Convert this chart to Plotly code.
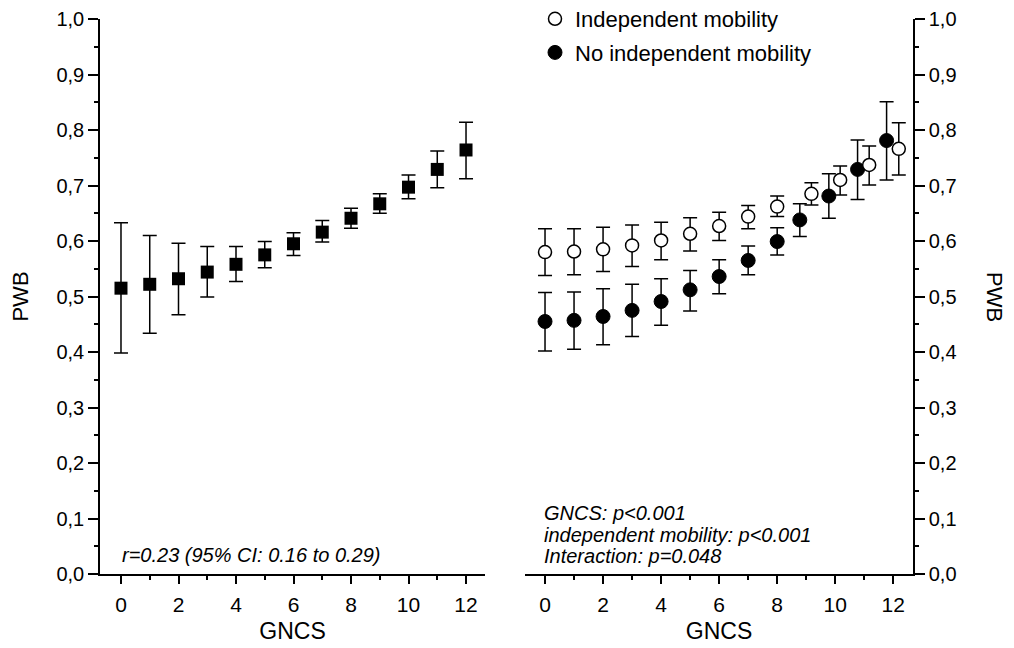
import plotly.graph_objects as go

# ---- Data ----
gncs = [0, 1, 2, 3, 4, 5, 6, 7, 8, 9, 10, 11, 12]

# Left panel: overall PWB by GNCS
all_mean = [0.515, 0.522, 0.532, 0.544, 0.558, 0.575, 0.595, 0.616, 0.641, 0.667, 0.697, 0.729, 0.764]
all_low = [0.398, 0.434, 0.467, 0.499, 0.527, 0.552, 0.574, 0.598, 0.623, 0.650, 0.676, 0.696, 0.712]
all_up = [0.633, 0.610, 0.596, 0.590, 0.590, 0.599, 0.615, 0.637, 0.659, 0.685, 0.719, 0.762, 0.814]

# Right panel: independent mobility
ind_x = [0, 1, 2, 3, 4, 5, 6, 7, 8, 9.18, 10.17, 11.17, 12.19]
ind_mean = [0.580, 0.581, 0.585, 0.592, 0.601, 0.613, 0.627, 0.644, 0.662, 0.685, 0.710, 0.737, 0.766]
ind_low = [0.538, 0.539, 0.545, 0.554, 0.566, 0.582, 0.601, 0.622, 0.644, 0.665, 0.683, 0.701, 0.719]
ind_up = [0.622, 0.622, 0.625, 0.629, 0.634, 0.642, 0.652, 0.664, 0.681, 0.705, 0.735, 0.771, 0.813]

# Right panel: no independent mobility
noind_x = [0, 1, 2, 3, 4, 5, 6, 7, 8, 8.78, 9.78, 10.77, 11.77]
noind_mean = [0.455, 0.457, 0.464, 0.475, 0.491, 0.512, 0.536, 0.565, 0.599, 0.638, 0.681, 0.729, 0.781]
noind_low = [0.402, 0.405, 0.413, 0.428, 0.448, 0.474, 0.505, 0.539, 0.575, 0.608, 0.641, 0.675, 0.710]
noind_up = [0.507, 0.508, 0.514, 0.522, 0.532, 0.547, 0.566, 0.591, 0.624, 0.667, 0.721, 0.782, 0.851]

x_ticks = [0, 2, 4, 6, 8, 10, 12]

FONT = "Arial, Liberation Sans, sans-serif"
W, H = 1014, 648
OFF = 8  # page body margin offset


def px(x):
    return (x - OFF) / W


def py(y):
    return (H - (y - OFF)) / H


def err(mean, low, up):
    return dict(type="data", symmetric=False,
                array=[u - m for u, m in zip(up, mean)],
                arrayminus=[m - l for m, l in zip(mean, low)],
                color="black", thickness=1.5, width=7)


fig = go.Figure()

fig.add_trace(go.Scatter(
    x=gncs, y=all_mean, mode="markers", xaxis="x", yaxis="y",
    marker=dict(symbol="square", size=13, color="black"),
    error_y=err(all_mean, all_low, all_up), showlegend=False))

fig.add_trace(go.Scatter(
    x=noind_x, y=noind_mean, mode="markers", xaxis="x2", yaxis="y2",
    name="No independent mobility", legendrank=2, legendgroup="b",
    marker=dict(symbol="circle", size=14, color="black", line=dict(color="black", width=1)),
    error_y=err(noind_mean, noind_low, noind_up)))

fig.add_trace(go.Scatter(
    x=ind_x, y=ind_mean, mode="markers", xaxis="x2", yaxis="y2",
    name="Independent mobility", legendrank=1, legendgroup="a",
    marker=dict(symbol="circle", size=13, color="white", line=dict(color="black", width=1.5)),
    error_y=err(ind_mean, ind_low, ind_up)))

ydom = [py(574), py(19)]

xaxis_common = dict(
    tickmode="array", tickvals=x_ticks, ticks="outside", ticklen=8, tickwidth=1.5,
    tickcolor="black", showline=True, linecolor="black", linewidth=1.5,
    showgrid=False, zeroline=False, tickfont=dict(size=21, color="black"),
    automargin=False, ticklabelstandoff=3,
    minor=dict(ticks="outside", ticklen=4, tickwidth=1.5, tickcolor="black", dtick=1, tick0=0, showgrid=False),
    title=dict(text="GNCS", font=dict(size=23, color="black"), standoff=8),
)
yaxis_common = dict(
    range=[0, 1], dtick=0.1, tick0=0, tickformat=".1f", ticks="outside", ticklen=10,
    tickwidth=1.5, tickcolor="black", showline=True, linecolor="black", linewidth=1.5,
    showgrid=False, zeroline=False, tickfont=dict(size=20, color="black"),
    automargin=False, ticklabeloverflow="allow",
    minor=dict(ticks="outside", ticklen=4, tickwidth=1.5, tickcolor="black", dtick=0.05, tick0=0, showgrid=False),
)

fig.update_layout(
    width=W, height=H,
    margin=dict(l=0, r=0, t=0, b=0, autoexpand=False),
    paper_bgcolor="white", plot_bgcolor="white",
    separators=", ",
    font=dict(family=FONT, color="black"),
    xaxis=dict(domain=[px(100), px(485)], range=[-0.73, 12.66], anchor="y", **xaxis_common),
    xaxis2=dict(domain=[px(525), px(913)], range=[-0.69, 12.68], anchor="y2", **xaxis_common),
    yaxis=dict(domain=ydom, anchor="x", side="left",
               title=dict(text="PWB", font=dict(size=22, color="black"), standoff=22),
               **yaxis_common),
    yaxis2=dict(domain=ydom, anchor="x2", side="right", **yaxis_common),
    legend=dict(x=px(535), y=py(-2), xanchor="left", yanchor="top",
                font=dict(size=22, color="black"), bgcolor="rgba(0,0,0,0)",
                tracegroupgap=2, itemwidth=30),
    annotations=[
        dict(text="PWB", textangle=90, xref="paper", yref="paper",
             x=px(995), y=py(297), xanchor="center", yanchor="middle",
             showarrow=False, font=dict(size=22, color="black")),
        dict(text="<i>r=0.23 (95% CI: 0.16 to 0.29)</i>", xref="paper", yref="paper",
             x=px(120), y=py(555), xanchor="left", yanchor="middle",
             showarrow=False, font=dict(size=20, color="black")),
        dict(text="<i>GNCS: p<0.001</i>", xref="paper", yref="paper",
             x=px(542), y=py(513), xanchor="left", yanchor="middle",
             showarrow=False, font=dict(size=20, color="black")),
        dict(text="<i>independent mobility: p<0.001</i>", xref="paper", yref="paper",
             x=px(542), y=py(535), xanchor="left", yanchor="middle",
             showarrow=False, font=dict(size=20, color="black")),
        dict(text="<i>Interaction: p=0.048</i>", xref="paper", yref="paper",
             x=px(542), y=py(556), xanchor="left", yanchor="middle",
             showarrow=False, font=dict(size=20, color="black")),
    ],
)

fig.write_html("out.html")
